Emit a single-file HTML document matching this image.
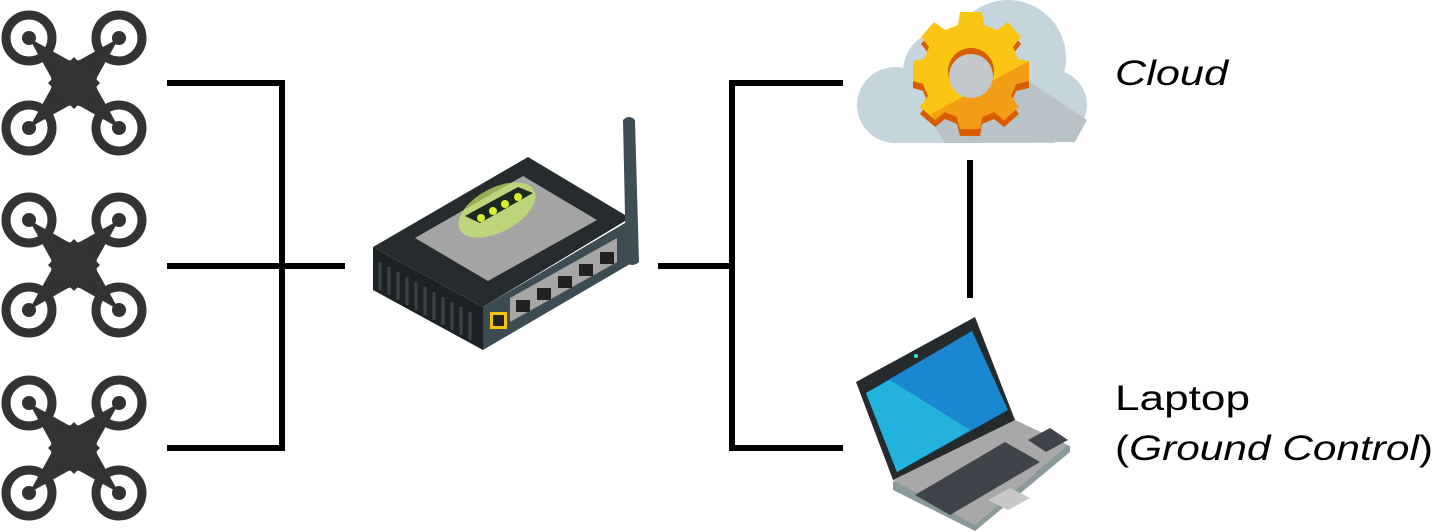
<!DOCTYPE html>
<html><head><meta charset="utf-8"><style>
html,body{margin:0;padding:0;background:#fff;}
svg{display:block;}
text{font-family:"Liberation Sans",sans-serif;font-size:35px;fill:#000;}
</style></head><body>
<svg width="1435" height="532" viewBox="0 0 1435 532" xmlns="http://www.w3.org/2000/svg">
<defs>
<g id="drone">
  <circle cx="-45" cy="-45" r="23" fill="none" stroke="#333" stroke-width="9"/>
  <circle cx="45" cy="-45" r="23" fill="none" stroke="#333" stroke-width="9"/>
  <circle cx="-45" cy="45" r="23" fill="none" stroke="#333" stroke-width="9"/>
  <circle cx="45" cy="45" r="23" fill="none" stroke="#333" stroke-width="9"/>
  <circle cx="-45" cy="-45" r="7" fill="#333"/>
  <circle cx="45" cy="-45" r="7" fill="#333"/>
  <circle cx="-45" cy="45" r="7" fill="#333"/>
  <circle cx="45" cy="45" r="7" fill="#333"/>
  <path d="M-45,-45 L-4,-22 0,-26 4,-22 45,-45 22,-4 26,0 22,4 45,45 4,22 0,26 -4,22 -45,45 -22,4 -26,0 -22,-4 Z" fill="#333"/>
  <path d="M-24,-12 L-12,-24 0,-22 12,-24 24,-12 22,0 24,12 12,24 0,22 -12,24 -24,12 -22,0Z" fill="#333"/>
</g>
</defs>
<use href="#drone" x="74" y="83"/>
<use href="#drone" x="74" y="265"/>
<use href="#drone" x="74" y="448"/>

<g stroke="#000" stroke-width="6" fill="none">
  <polyline points="167,83 282,83 282,448 167,448"/>
  <line x1="167" y1="266" x2="345" y2="266"/>
  <polyline points="843,83 732,83 732,448 843,448"/>
  <line x1="658" y1="266" x2="732" y2="266"/>
  <line x1="970" y1="160" x2="970" y2="298"/>
</g>

<!-- router -->
<g>
  <polygon points="373,247 483,307 483,350 373,290" fill="#1d2224"/>
  <g stroke="#3a4244" stroke-width="3">
    <line x1="380" y1="262" x2="380" y2="290"/><line x1="389" y1="267" x2="389" y2="295"/>
    <line x1="398" y1="272" x2="398" y2="300"/><line x1="407" y1="277" x2="407" y2="305"/>
    <line x1="416" y1="282" x2="416" y2="310"/><line x1="425" y1="287" x2="425" y2="315"/>
    <line x1="434" y1="292" x2="434" y2="320"/><line x1="443" y1="297" x2="443" y2="325"/>
    <line x1="452" y1="302" x2="452" y2="330"/><line x1="461" y1="307" x2="461" y2="335"/>
    <line x1="470" y1="312" x2="470" y2="340"/>
  </g>
  <polygon points="483,307 630,220 630,264 483,350" fill="#3d4b52"/>
  <polygon points="510,298 617,238 617,262 510,322" fill="#a6a6a6"/>
  <g fill="#222">
    <rect x="516" y="300" width="14" height="12"/><rect x="537" y="288" width="14" height="12"/>
    <rect x="558" y="276" width="14" height="12"/><rect x="579" y="264" width="14" height="12"/>
    <rect x="600" y="252" width="14" height="12"/>
  </g>
  <rect x="490" y="312" width="17" height="17" fill="#f5c400"/>
  <rect x="493" y="315" width="11" height="11" fill="#222"/>
  <polygon points="373,247 528,157 630,218 483,307" fill="#262b2d"/>
  <polygon points="415,238 523,176 597,220 488,281" fill="#a4a4a4"/>
  <ellipse cx="497" cy="210" rx="42" ry="22" fill="#c9e86a" opacity="0.7" transform="rotate(-28 497 210)"/>
  <polygon points="465,216 518,187 533,193 480,223" fill="#1b2a20"/>
  <g fill="#d8ef2a"><circle cx="481" cy="218" r="4"/><circle cx="493" cy="211" r="4"/><circle cx="505" cy="204" r="4"/><circle cx="518" cy="197" r="4"/></g>
  <path d="M623,120 Q629,114 635,120 L639,262 Q632,268 626,262 Z" fill="#3f4d54"/>
</g>

<!-- cloud -->
<g fill="#c4d6dc">
  <circle cx="895" cy="105" r="38"/>
  <circle cx="945" cy="72" r="42"/>
  <circle cx="1008" cy="58" r="58"/>
  <circle cx="1052" cy="105" r="35"/>
  <rect x="895" y="95" width="160" height="48"/>
</g>
<path d="M945,143 L925,110 1000,62 1087,120 1075,142 Z" fill="#b9c2c6"/>
<g transform="translate(971,74)">
  <path d="M-11,-55 L11,-55 13,-42 26,-37 37,-45 50,-30 42,-20 47,-8 58,-6 58,14 45,17 40,29 48,40 33,53 23,45 11,50 9,62 -11,62 -14,50 -26,45 -36,53 -51,40 -43,29 -48,17 -58,14 -58,-6 -47,-8 -42,-20 -50,-30 -37,-45 -26,-37 -13,-42Z" fill="#d85d00"/>
  <path d="M-11,-62 L11,-62 13,-49 26,-44 37,-52 50,-37 42,-27 47,-15 58,-13 58,7 45,10 40,22 48,33 33,46 23,38 11,43 9,55 -11,55 -14,43 -26,38 -36,46 -51,33 -43,22 -48,10 -58,7 -58,-13 -47,-15 -42,-27 -50,-37 -37,-52 -26,-44 -13,-49Z" fill="#fbc613"/>
  <path d="M58,-13 L58,7 45,10 40,22 48,33 33,46 23,38 11,43 9,55 -11,55 -14,43 -26,38 -36,46 -40,40 Z" fill="#f29e14"/>
  <circle cx="0" cy="-3" r="23" fill="#d85d00"/>
  <circle cx="0" cy="2" r="22" fill="#c2c8cb"/>
</g>

<!-- laptop -->
<g>
  <polygon points="893,482 1015,420 1070,446 1070,452 975,531 893,490" fill="#8a9a9a"/>
  <polygon points="893,480 1015,420 1068,445 975,525" fill="#a8a8a8"/>
  <polygon points="915,495 1005,442 1040,462 950,515" fill="#40434a"/>
  <polygon points="1028,440 1050,428 1068,440 1046,452" fill="#40434a"/>
  <polygon points="988,500 1010,488 1030,498 1008,510" fill="#c8c8c8"/>
  <polygon points="856,382 975,317 1015,420 893,480" fill="#252a2c"/>
  <polygon points="866,393 972,331 1008,410 897,472" fill="#1c87d1"/>
  <polygon points="866,393 890,380 970,430 897,472" fill="#21b3dc"/>
  <circle cx="916" cy="356" r="2" fill="#3ec"/>
</g>

<text x="1115" y="85" font-style="italic" textLength="113" lengthAdjust="spacingAndGlyphs">Cloud</text>
<text x="1115" y="410" textLength="135" lengthAdjust="spacingAndGlyphs">Laptop</text>
<text x="1115" y="460" textLength="318" lengthAdjust="spacingAndGlyphs">(<tspan font-style="italic">Ground Control</tspan>)</text>
</svg>
</body></html>
